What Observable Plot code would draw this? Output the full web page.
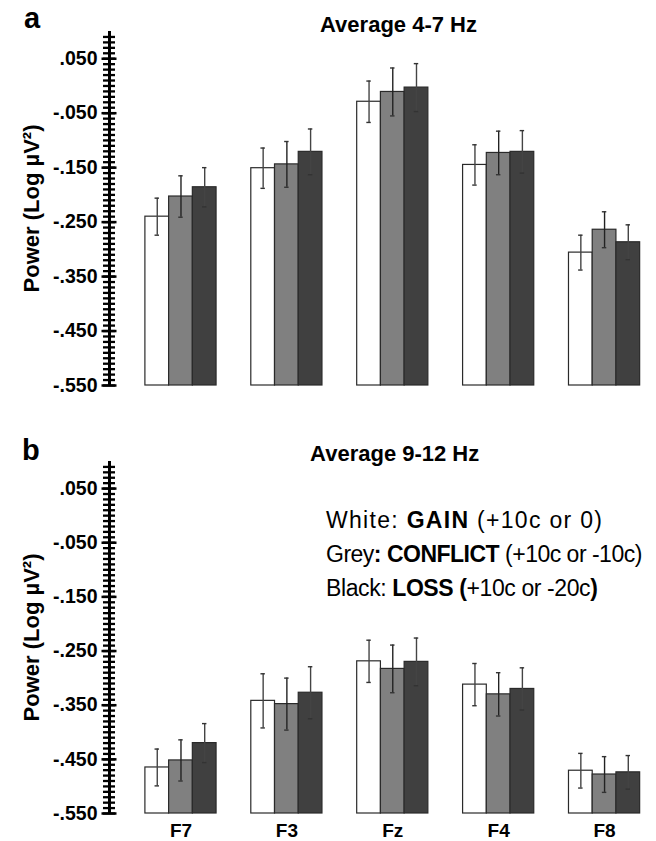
<!DOCTYPE html>
<html>
<head>
<meta charset="utf-8">
<script src="https://cdn.jsdelivr.net/npm/d3@7"></script>
<script src="https://cdn.jsdelivr.net/npm/@observablehq/plot@0.6"></script>
<style>
  html, body { margin: 0; padding: 0; background: #fff; }
  #root { position: relative; width: 656px; height: 841px; overflow: hidden; font-family: "Liberation Sans", Arial, Helvetica, sans-serif; color: #000; }
  .abs { position: absolute; white-space: nowrap; line-height: 1; }
  .letter { font-size: 29px; font-weight: bold; }
  .title { font-size: 22px; font-weight: bold; transform: translateX(-50%); }
  .legend { position: absolute; left: 326px; top: 503px; font-size: 23px; line-height: 34px; white-space: nowrap; }
  .panel { position: absolute; left: 0; }
</style>
</head>
<body>
<div id="root">
  <div class="abs letter" style="left:24px; top:3.8px;">a</div>
  <div class="abs title" style="left:398.5px; top:13.7px;">Average 4-7 Hz</div>
  <div class="panel" id="panelA" style="top:0px;"></div>
  <div class="abs letter" style="left:22px; top:436.2px;">b</div>
  <div class="abs title" style="left:394.7px; top:443.1px;">Average 9-12 Hz</div>
  <div class="panel" id="panelB" style="top:400px;"></div>
  <div class="legend">
    <div style="letter-spacing:1.3px;">White: <b>GAIN</b> (+10c or 0)</div>
    <div style="letter-spacing:-0.5px;">Grey<b>: CONFLICT</b> (+10c or -10c)</div>
    <div style="letter-spacing:-0.4px;">Black: <b>LOSS (</b>+10c or -20c<b>)</b></div>
  </div>
</div>
<script>
// ---------- data ----------
const electrodes = ["F7", "F3", "Fz", "F4", "F8"];
const conditions = ["GAIN", "CONFLICT", "LOSS"];
const conditionFills = ["#ffffff", "#808080", "#404040"];

// Panel a: Average 4-7 Hz (Log µV²)
const thetaGain     = [-0.240, -0.151, -0.029, -0.145, -0.306];
const thetaConflict = [-0.203, -0.144, -0.011, -0.123, -0.264];
const thetaLoss     = [-0.186, -0.121, -0.003, -0.121, -0.287];
const thetaGainErr     = [0.034, 0.037, 0.038, 0.037, 0.032];
const thetaConflictErr = [0.038, 0.042, 0.044, 0.040, 0.033];
const thetaLossErr     = [0.036, 0.042, 0.044, 0.039, 0.032];

// Panel b: Average 9-12 Hz (Log µV²)
const alphaGain     = [-0.465, -0.342, -0.269, -0.312, -0.471];
const alphaConflict = [-0.452, -0.348, -0.283, -0.330, -0.478];
const alphaLoss     = [-0.420, -0.327, -0.270, -0.320, -0.474];
const alphaGainErr     = [0.034, 0.050, 0.039, 0.039, 0.032];
const alphaConflictErr = [0.038, 0.048, 0.044, 0.040, 0.033];
const alphaLossErr     = [0.036, 0.048, 0.044, 0.039, 0.031];

// Axis ticks
const yMajorTicks = [0.05, -0.05, -0.15, -0.25, -0.35, -0.45, -0.55];
const yTickLabels = [".050", "-.050", "-.150", "-.250", "-.350", "-.450", "-.550"];
const yMinorTicks = d3.range(-55, 10).map(v => v / 100);
const yLabel = "Power (Log \u00B5V\u00B2)";

// ---------- layout constants ----------
const yDomain = [-0.55, 0.1];
const xDomain = [-0.675, 4.396];
const BW = 0.224;      // bar width in group units
const CAP = 0.021;     // half cap width in group units
const FONT = "Liberation Sans, Arial, Helvetica, sans-serif";

function rowsFor(means, errs) {
  return electrodes.flatMap((e, i) => conditions.map((c, j) => ({
    electrode: e, ei: i, condition: c, ci: j,
    value: means[j][i], err: errs[j][i]
  })));
}

function tickLabel(d) {
  const k = yMajorTicks.findIndex(t => Math.abs(t - d) < 1e-9);
  return k >= 0 ? yTickLabels[k] : "";
}

function panel(rows, {height, marginTop, marginBottom, showX}) {
  const center = d => d.ei + (d.ci - 1) * BW;
  const caps = rows.flatMap(d => [
    {c: center(d), y: d.value + d.err, ci: d.ci},
    {c: center(d), y: d.value - d.err, ci: d.ci}
  ]);
  const marks = [
    Plot.rect(rows, {
      x1: d => d.ei + (d.ci - 1.5) * BW,
      x2: d => d.ei + (d.ci - 0.5) * BW,
      y1: () => yDomain[0],
      y2: "value",
      fill: "condition",
      stroke: "#2a2a2a",
      strokeWidth: 1.2
    }),
    Plot.ruleX(rows, {
      x: center,
      y1: d => d.value - d.err,
      y2: d => d.value + d.err,
      stroke: d => d.ci === 1 ? "#222" : "#444",
      strokeWidth: 1.4
    }),
    Plot.ruleY(caps, {
      x1: d => d.c - CAP,
      x2: d => d.c + CAP,
      y: "y",
      stroke: "#333",
      strokeWidth: 1.4
    }),
    // y axis line
    Plot.ruleX([xDomain[0]], {x: d => d, y1: () => yDomain[0], y2: () => yDomain[1], stroke: "#000", strokeWidth: 3}),
    // minor crossing ticks
    Plot.axisY({ticks: yMinorTicks, tickSize: 12, dx: 6, tickFormat: () => "", strokeWidth: 2.3, label: null}),
    // major crossing ticks
    Plot.axisY({ticks: yMajorTicks, tickSize: 15, dx: 7.5, tickFormat: () => "", strokeWidth: 2.5, label: null}),
    // tick labels
    Plot.axisY({ticks: yMajorTicks, tickSize: 0, tickPadding: 12, tickFormat: tickLabel, fontSize: 19.5, fontWeight: "bold", label: null}),
    Plot.text([yLabel], {frameAnchor: "left", textAnchor: "middle", text: d => d, rotate: -90, dx: -78, fontSize: 22, fontWeight: "bold"})
  ];
  if (showX) {
    marks.push(Plot.axisX({ticks: electrodes.map((e, i) => i), tickFormat: i => electrodes[i], tickSize: 0, tickPadding: 10, fontSize: 19, fontWeight: "bold", label: null}));
  }
  return Plot.plot({
    width: 656,
    height,
    marginLeft: 109,
    marginRight: 10,
    marginTop,
    marginBottom,
    style: {fontFamily: FONT, color: "#000", background: "transparent", overflow: "visible"},
    x: {type: "linear", domain: xDomain, axis: showX ? undefined : null},
    y: {domain: yDomain},
    color: {domain: conditions, range: conditionFills},
    marks
  });
}

const rowsA = rowsFor([thetaGain, thetaConflict, thetaLoss], [thetaGainErr, thetaConflictErr, thetaLossErr]);
const rowsB = rowsFor([alphaGain, alphaConflict, alphaLoss], [alphaGainErr, alphaConflictErr, alphaLossErr]);

document.getElementById("panelA").appendChild(panel(rowsA, {height: 400, marginTop: 31, marginBottom: 15, showX: false}));
document.getElementById("panelB").appendChild(panel(rowsB, {height: 441, marginTop: 61, marginBottom: 28, showX: true}));
</script>
</body>
</html>
